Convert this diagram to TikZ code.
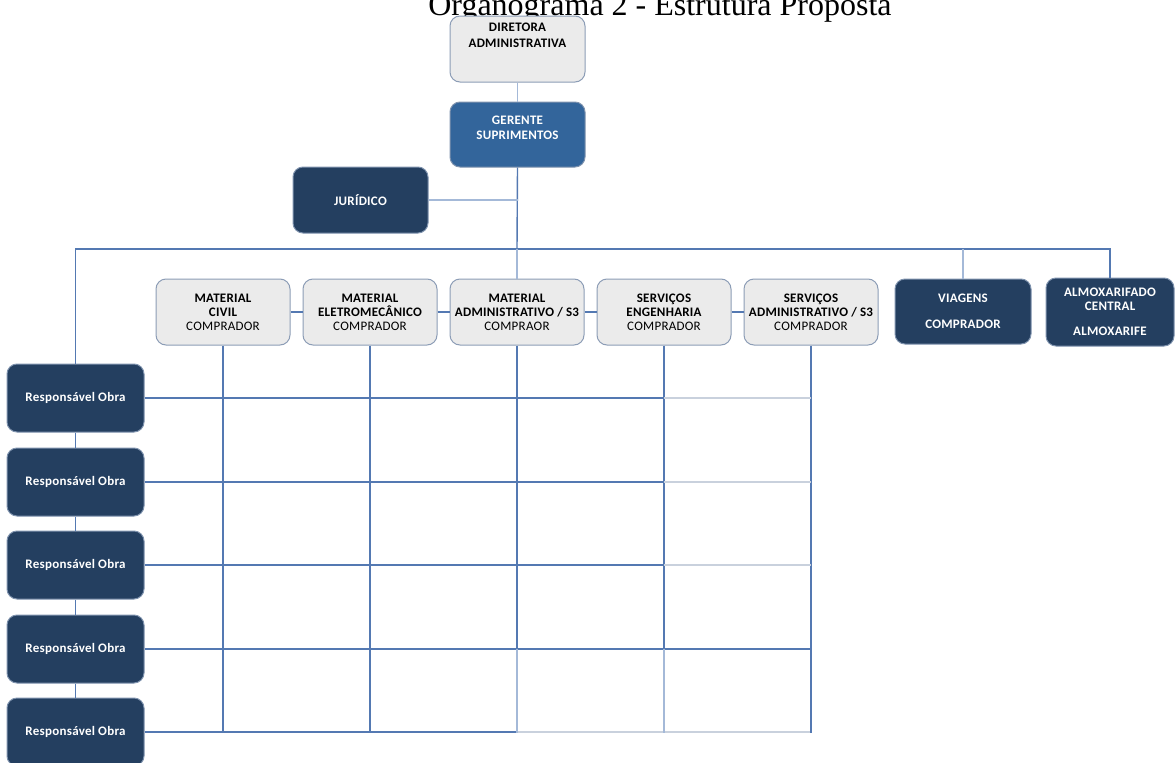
\documentclass[tikz,border=0pt]{standalone}
\usepackage{fontspec}
\newfontfamily\titlefont{Liberation Serif}
\newfontfamily\boxfont[LetterSpace=2]{Carlito}
\definecolor{lightfill}{HTML}{EBEBEB}
\definecolor{lightedge}{HTML}{8C9DB6}
\definecolor{navy}{HTML}{243F60}
\definecolor{navyedge}{HTML}{7F93AE}
\definecolor{midblue}{HTML}{33659B}
\definecolor{lineblue}{HTML}{5479B2}
\definecolor{lightline}{HTML}{A4B9D8}
\definecolor{grayline}{HTML}{C9D1DD}
\tikzset{
  box/.style={rectangle, rounded corners=10pt, inner sep=0pt, line width=1pt, align=center,
    font=\boxfont\bfseries\fontsize{13}{14}\selectfont},
  lightbox/.style={box, fill=lightfill, draw=lightedge, text=black},
  navybox/.style={box, fill=navy, draw=navyedge, text=white},
  midbox/.style={box, fill=midblue, draw=navyedge, text=white},
  conn/.style={draw=lineblue, line width=1.4pt},
  lconn/.style={draw=lightline, line width=1.4pt},
  gconn/.style={draw=grayline, line width=1.4pt},
}
\newcommand{\reg}[1]{{\mdseries #1}}
\begin{document}
\begin{tikzpicture}[x=1pt,y=-1pt]
\useasboundingbox (0,0) rectangle (1176,763);
\fill[white] (0,0) rectangle (1176,763);

% title
\node[anchor=base, inner sep=0pt, font=\titlefont\fontsize{32}{32}\selectfont] (title) at (660,15.5) {Organograma 2 - Estrutura Proposta};

% top boxes
\node[lightbox, minimum width=135pt, minimum height=66pt] (dir) at (517.5,49)
  {\parbox[c][52pt][t]{130pt}{\centering\baselineskip=16pt DIRETORA\\ADMINISTRATIVA}};
\node[midbox, minimum width=135pt, minimum height=65pt] (ger) at (517.5,134.5)
  {\parbox[c][37pt][t]{130pt}{\centering\baselineskip=15pt GERENTE\\SUPRIMENTOS}};
\node[navybox, minimum width=135pt, minimum height=66pt] (jur) at (360.5,200) {JURÍDICO};

% middle row
\node[lightbox, minimum width=134pt, minimum height=66pt] (mc) at (223,312) {MATERIAL\\CIVIL\\\reg{COMPRADOR}};
\node[lightbox, minimum width=134pt, minimum height=66pt] (me) at (370,312) {MATERIAL\\ELETROMECÂNICO\\\reg{COMPRADOR}};
\node[lightbox, minimum width=134pt, minimum height=66pt] (ma) at (517,312) {MATERIAL\\ADMINISTRATIVO / S3\\\reg{COMPRAOR}};
\node[lightbox, minimum width=134pt, minimum height=66pt] (se) at (664,312) {SERVIÇOS\\ENGENHARIA\\\reg{COMPRADOR}};
\node[lightbox, minimum width=134pt, minimum height=66pt] (sa) at (811,312) {SERVIÇOS\\ADMINISTRATIVO / S3\\\reg{COMPRADOR}};
\node[navybox, minimum width=136pt, minimum height=65pt] (via) at (963,311.5) {VIAGENS\\[12pt]COMPRADOR};
\node[navybox, minimum width=128pt, minimum height=68pt] (alm) at (1110,312) {ALMOXARIFADO\\CENTRAL\\[11pt]ALMOXARIFE};

% left column
\foreach \i/\y in {1/398,2/482,3/565,4/649,5/732}{
  \node[navybox, minimum width=137pt, minimum height=68pt] (r\i) at (75.5,\y) {Responsável Obra};
}

% coordinates
\coordinate (bus) at (517,249);
\coordinate (gb) at (517,733);

% connectors top
\draw[lconn] (dir.south) -- (ger.north);
\draw[conn] (ger.south) -- (bus);
\draw[lconn] (jur.east) -- (jur.east -| ger.south);
\draw[conn] (r1.north) |- (bus);
\draw[conn] (bus) -| (alm.north);
\draw[lconn] (via.north) -- (via.north |- bus);
\draw[lconn] (bus) -- (ma.north);

% middle chain
\draw[conn] (mc.east) -- (me.west);
\draw[conn] (me.east) -- (ma.west);
\draw[conn] (ma.east) -- (se.west);
\draw[conn] (se.east) -- (sa.west);

% left chain
\draw[conn] (r1.south) -- (r2.north);
\draw[conn] (r2.south) -- (r3.north);
\draw[conn] (r3.south) -- (r4.north);
\draw[conn] (r4.south) -- (r5.north);

% grid verticals
\foreach \b in {mc,me,ma,se,sa}{
  \draw[conn] (\b.south) -- (\b.south |- gb);
}
% grid horizontals
\foreach \i in {1,2,3,4,5}{
  \draw[conn] (r\i.east) -- (r\i -| sa.south);
}
% lighter segments
\foreach \i in {1,2,3}{
  \draw[gconn] (r\i -| se.south) -- (r\i -| sa.south);
}
\draw[gconn] (r5 -| ma.south) -- (r5 -| sa.south);
\draw[lconn] (r4 -| ma.south) -- (ma.south |- gb);
\draw[lconn] (r4 -| se.south) -- (se.south |- gb);
\draw[conn] (r4 -| sa.south) -- (sa.south |- gb);
\end{tikzpicture}
\end{document}
